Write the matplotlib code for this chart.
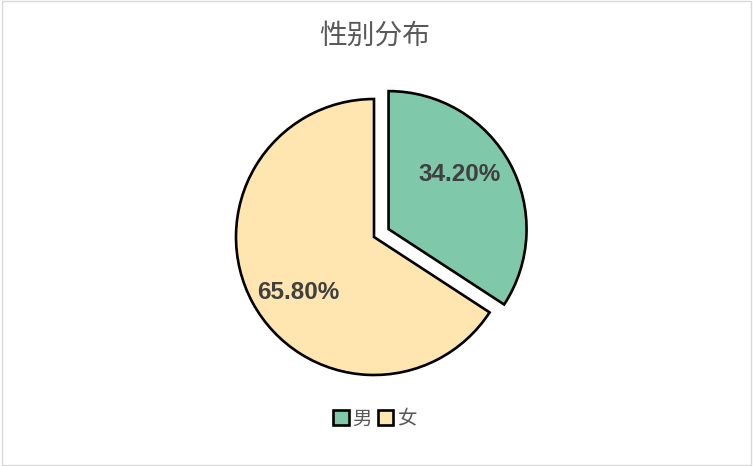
import matplotlib.pyplot as plt
from matplotlib.patches import Rectangle

plt.rcParams['font.family'] = ['Noto Sans CJK SC', 'DejaVu Sans']

# data
labels = ['男', '女']
shares = [34.2, 65.8]
colors = ['#7fc8a9', '#ffe6b0']
explode = [0.12, 0]

fig = plt.figure(figsize=(7.53, 4.66), dpi=100)
ax = fig.add_axes([0, 0, 1, 1])

wedges, texts, autotexts = ax.pie(
    shares, colors=colors, explode=explode, startangle=90, counterclock=False,
    autopct='%.2f%%', pctdistance=0.67,
    wedgeprops=dict(edgecolor='black', linewidth=1.9),
    textprops=dict(family='Liberation Sans', fontsize=17.5, fontweight='bold', color='#404040'),
)

# 1 data unit = 138 px, pie centre at (374, 237) from top-left
scale = 138.0
ax.set_xlim(-374 / scale, (753 - 374) / scale)
ax.set_ylim(-(466 - 237) / scale, 237 / scale)
ax.set_aspect('auto')
ax.axis('off')

# label placement like the original (data units from pie centre)
label_pos = [(0.62, 0.45), (-0.55, -0.40)]
for t, p in zip(autotexts, label_pos):
    t.set_position(p)

fig.text(0.498, 1 - 36 / 466, '性别分布', ha='center', va='center', fontsize=20, color='#595959')

leg = ax.legend(wedges, labels, loc='center', bbox_to_anchor=(0.498, 1 - 419 / 466),
                ncol=2, frameon=False, fontsize=14, handlelength=0.8, handleheight=0.8,
                handletextpad=0.2, columnspacing=0.3, labelcolor='#595959')

fig.patches.append(Rectangle((0.002, 0.003), 0.995, 0.994, transform=fig.transFigure,
                             fill=False, edgecolor='#d9d9d9', linewidth=1))

fig.savefig('out.png', dpi=100)
